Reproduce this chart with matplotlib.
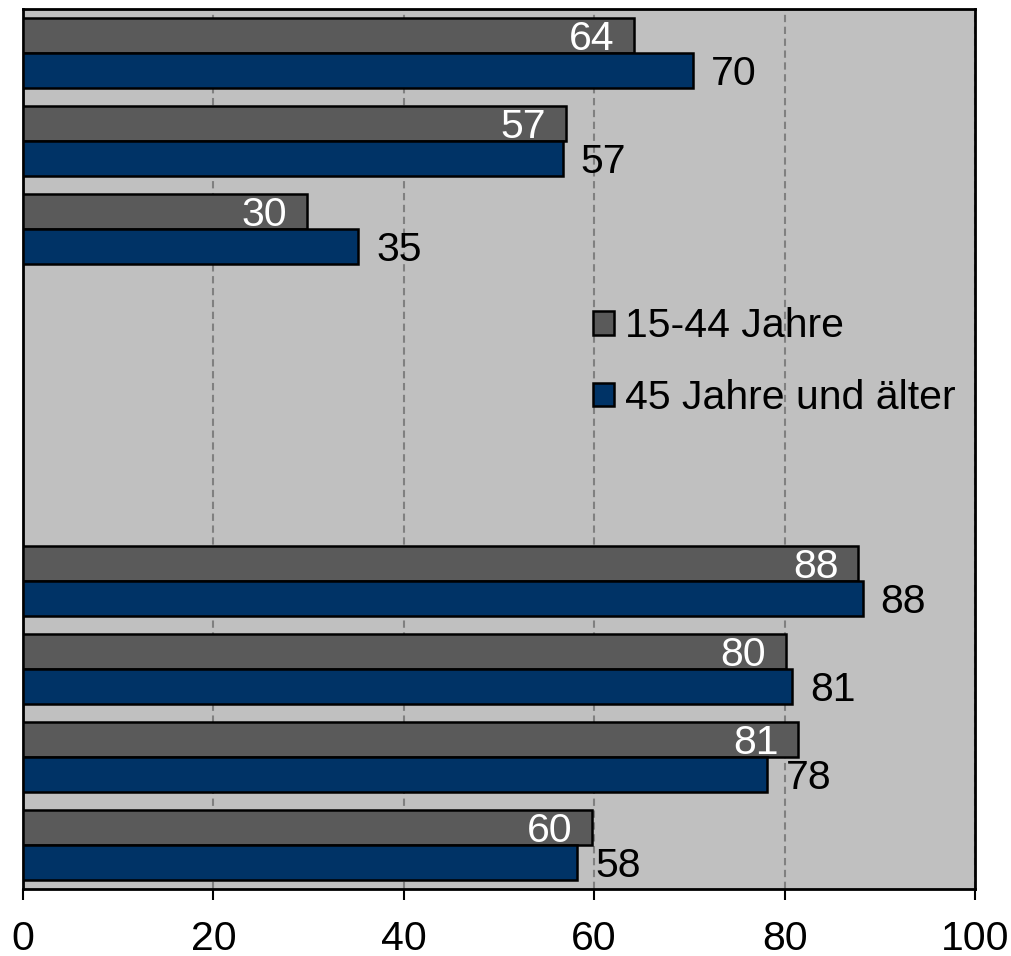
import numpy as np
import matplotlib
matplotlib.use("Agg")
import matplotlib.pyplot as plt

plt.rcParams['font.family'] = ['Liberation Sans', 'DejaVu Sans']

# Daten (Werte in %), drei leere Kategorien in der Mitte
kategorien = list(range(10))
jung = [64.2, 57.0, 29.8, np.nan, np.nan, np.nan, 87.7, 80.1, 81.4, 59.8]
alt = [70.4, 56.7, 35.2, np.nan, np.nan, np.nan, 88.2, 80.8, 78.2, 58.2]
serien = ["15-44 Jahre", "45 Jahre und älter"]
farben = ["#5a5a5a", "#003366"]
xticks = [0, 20, 40, 60, 80, 100]

fs = 29.5

fig = plt.figure(figsize=(10.12, 9.56), dpi=100)
ax = fig.add_axes([0.0227, 0.0701, 0.9407, 0.9205])
ax.set_facecolor("#c0c0c0")

y = np.arange(len(kategorien))
h = 0.4
ax.barh(y - 0.2, jung, height=h, color=farben[0], edgecolor="black",
        linewidth=1.8, label=serien[0], zorder=3)
ax.barh(y + 0.2, alt, height=h, color=farben[1], edgecolor="black",
        linewidth=1.8, label=serien[1], zorder=3)

# Beschriftungen
for yi, v in zip(y, jung):
    if not np.isnan(v):
        ax.annotate(f"{v:.0f}", (v, yi - 0.2), xytext=(-14, -2.5), textcoords="offset points",
                    ha="right", va="center", color="white", fontsize=fs, zorder=4)
for yi, v in zip(y, alt):
    if not np.isnan(v):
        ax.annotate(f"{v:.0f}", (v, yi + 0.2), xytext=(13, -2.5), textcoords="offset points",
                    ha="left", va="center", color="black", fontsize=fs, zorder=4)

ax.set_xlim(0, 100)
ax.set_ylim(9.5, -0.5)
ax.set_xticks(xticks)
ax.set_xticklabels([str(t) for t in xticks])
ax.xaxis.grid(True, color="#808080", linestyle=(0, (3.5, 2.2)), linewidth=1.5, zorder=1)
ax.set_axisbelow(True)
ax.tick_params(axis="x", direction="out", length=8, width=1.5, pad=14, labelsize=fs)
ax.tick_params(axis="y", left=False, labelleft=False)
for s in ax.spines.values():
    s.set_linewidth(2)
    s.set_color("black")

ax.legend(loc="upper left", bbox_to_anchor=(0.599, 0.661), frameon=False, fontsize=fs,
          borderpad=0, borderaxespad=0, handlelength=0.51, handleheight=0.51,
          handletextpad=0.27, labelspacing=0.82)

fig.savefig("out.png", dpi=100)
